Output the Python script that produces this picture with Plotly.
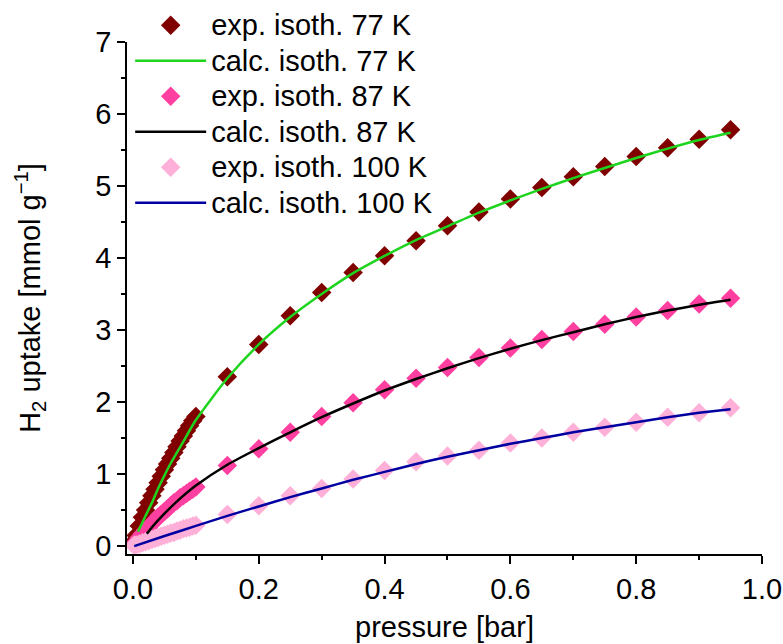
import plotly.graph_objects as go

# ---- data ----
p_exp = [0.002, 0.005, 0.01, 0.015, 0.02, 0.025, 0.03, 0.035, 0.04, 0.045, 0.05,
         0.055, 0.06, 0.065, 0.07, 0.075, 0.08, 0.085, 0.09, 0.095, 0.1,
         0.15, 0.2, 0.25, 0.3, 0.35, 0.4, 0.45, 0.5, 0.55, 0.6, 0.65, 0.7,
         0.75, 0.8, 0.85, 0.9, 0.95]
exp_77 = [0.07, 0.15, 0.28, 0.40, 0.50, 0.60, 0.70, 0.79, 0.88, 0.97, 1.06,
          1.14, 1.22, 1.30, 1.38, 1.46, 1.53, 1.60, 1.67, 1.74, 1.80,
          2.35, 2.80, 3.20, 3.52, 3.80, 4.03, 4.24, 4.45, 4.64, 4.82, 4.98, 5.13,
          5.27, 5.41, 5.53, 5.65, 5.78]
exp_87 = [0.03, 0.06, 0.12, 0.17, 0.22, 0.27, 0.31, 0.36, 0.40, 0.44, 0.48,
          0.52, 0.56, 0.60, 0.63, 0.67, 0.70, 0.73, 0.76, 0.79, 0.82,
          1.12, 1.35, 1.58, 1.80, 1.99, 2.17, 2.33, 2.48, 2.62, 2.75, 2.87, 2.98,
          3.08, 3.18, 3.27, 3.36, 3.44]
exp_100 = [0.01, 0.015, 0.03, 0.045, 0.06, 0.075, 0.09, 0.105, 0.12, 0.135, 0.15,
           0.165, 0.18, 0.19, 0.21, 0.22, 0.24, 0.25, 0.26, 0.28, 0.29,
           0.44, 0.56, 0.70, 0.80, 0.93, 1.05, 1.17, 1.25, 1.33, 1.43, 1.50, 1.58,
           1.65, 1.72, 1.79, 1.85, 1.92]

p_calc_77 = [0.008, 0.02, 0.03, 0.04, 0.05, 0.06, 0.07, 0.08, 0.1, 0.15, 0.2, 0.25,
             0.3, 0.35, 0.4, 0.45, 0.5, 0.55, 0.6, 0.65, 0.7, 0.75, 0.8, 0.85, 0.9, 0.95]
calc_77 = [0.20, 0.42, 0.60, 0.80, 0.98, 1.15, 1.30, 1.45, 1.75, 2.33, 2.80, 3.18,
           3.50, 3.79, 4.03, 4.25, 4.44, 4.63, 4.80, 4.96, 5.11, 5.25, 5.39, 5.52, 5.64, 5.74]

p_calc_87 = [0.022, 0.03, 0.05, 0.07, 0.1, 0.15, 0.2, 0.25, 0.3, 0.35, 0.4, 0.45,
             0.5, 0.55, 0.6, 0.65, 0.7, 0.75, 0.8, 0.85, 0.9, 0.95]
calc_87 = [0.17, 0.26, 0.45, 0.62, 0.84, 1.13, 1.36, 1.58, 1.79, 1.98, 2.16, 2.32,
           2.47, 2.61, 2.74, 2.86, 2.97, 3.08, 3.18, 3.27, 3.35, 3.42]

p_calc_100 = [0.002, 0.05, 0.1, 0.15, 0.2, 0.25, 0.3, 0.35, 0.4, 0.45, 0.5, 0.55,
              0.6, 0.65, 0.7, 0.75, 0.8, 0.85, 0.9, 0.95]
calc_100 = [0.00, 0.14, 0.28, 0.42, 0.55, 0.68, 0.80, 0.92, 1.03, 1.14, 1.24, 1.33,
            1.42, 1.50, 1.58, 1.65, 1.72, 1.79, 1.85, 1.90]

x_ticks = [0, 0.2, 0.4, 0.6, 0.8, 1.0]
x_tick_text = ["0.0", "0.2", "0.4", "0.6", "0.8", "1.0"]

FONT = "Liberation Sans, Arial, sans-serif"

fig = go.Figure()

def big(s):
    return '<span style="font-size:29px">' + s + '</span>'

def exp_trace(y, color, name, rank):
    return go.Scatter(x=p_exp, y=y, mode="markers", name=big(name), legendrank=rank,
                      marker=dict(symbol="diamond", size=15, color=color,
                                  line=dict(width=0)))

def calc_trace(x, y, color, name, rank):
    return go.Scatter(x=x, y=y, mode="lines", name=big(name), legendrank=rank,
                      line=dict(color=color, width=2.5, shape="spline", smoothing=0.6))

fig.add_trace(exp_trace(exp_77, "#800000", "exp. isoth. 77 K", 1))
fig.add_trace(exp_trace(exp_87, "#ff40a0", "exp. isoth. 87 K", 3))
fig.add_trace(exp_trace(exp_100, "#ffb0d8", "exp. isoth. 100 K", 5))
fig.add_trace(calc_trace(p_calc_77, calc_77, "#1ed41e", "calc. isoth. 77 K", 2))
fig.add_trace(calc_trace(p_calc_87, calc_87, "#000000", "calc. isoth. 87 K", 4))
fig.add_trace(calc_trace(p_calc_100, calc_100, "#0000a0", "calc. isoth. 100 K", 6))

fig.update_layout(
    width=783, height=644,
    margin=dict(l=127, r=21, t=42, b=90, autoexpand=False),
    paper_bgcolor="white", plot_bgcolor="white",
    font=dict(family=FONT, size=29, color="black"),
    showlegend=True,
    legend=dict(x=0.005, y=1.077, xanchor="left", yanchor="top",
                bgcolor="rgba(0,0,0,0)", font=dict(size=25),
                itemwidth=71, traceorder="normal"),
    xaxis=dict(range=[-0.0095, 1.0], tickvals=x_ticks, ticktext=x_tick_text,
               automargin=False,
               showline=True, linecolor="black", linewidth=1.5, mirror=False,
               ticks="outside", ticklen=8, tickwidth=1.5, tickcolor="black",
               tickfont=dict(size=29),
               minor=dict(dtick=0.1, tick0=0, ticks="outside", ticklen=4,
                          tickwidth=1.5, tickcolor="black"),
               showgrid=False, zeroline=False,
               title=dict(text="pressure [bar]", standoff=13, font=dict(size=29))),
    yaxis=dict(range=[-0.11, 7.0], dtick=1, tick0=0,
               automargin=False,
               showline=True, linecolor="black", linewidth=1.5, mirror=False,
               ticks="outside", ticklen=8, tickwidth=1.5, tickcolor="black",
               tickfont=dict(size=29),
               minor=dict(dtick=0.5, tick0=0, ticks="outside", ticklen=4,
                          tickwidth=1.5, tickcolor="black"),
               showgrid=False, zeroline=False,
               title=dict(text="H<sub>2</sub> uptake [mmol g<sup>\u22121</sup>]",
                          standoff=46, font=dict(size=29))),
)

fig.write_html("out.html")
